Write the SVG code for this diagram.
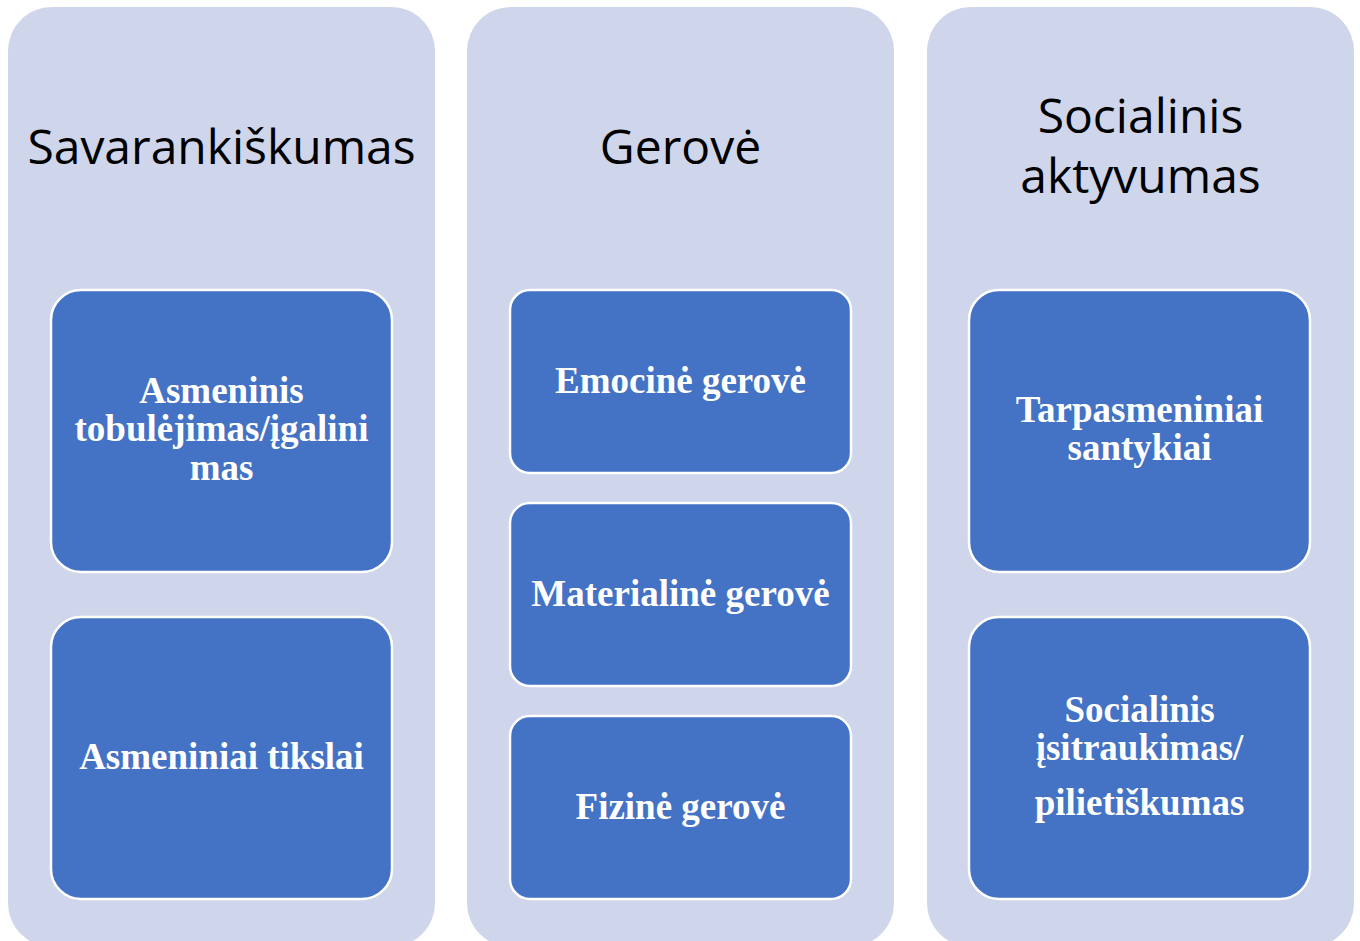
<svg xmlns="http://www.w3.org/2000/svg" width="1360" height="941" viewBox="0 0 1360 941">
<style>
.panel{fill:#cfd5ea;}
.box{fill:#4472c4;stroke:#ffffff;stroke-width:2.5;}
.title{font-family:"Open Sans","Liberation Sans",sans-serif;font-size:48px;fill:#000;text-anchor:middle;}
.label{font-family:"Liberation Serif","Times New Roman",serif;font-weight:bold;font-size:37px;fill:#fff;text-anchor:middle;}
</style>
<rect x="0" y="0" width="1360" height="941" fill="#ffffff"/>
<g id="col1">
<rect class="panel" x="8" y="7" width="427" height="940" rx="44"/>
<text class="title" x="221.5" y="164">Savarankiškumas</text>
</g>
<g id="col2">
<rect class="panel" x="467" y="7" width="427" height="940" rx="44"/>
<text class="title" x="680.5" y="164">Gerovė</text>
</g>
<g id="col3">
<rect class="panel" x="927" y="7" width="427" height="940" rx="44"/>
<text class="title" x="1140.5" y="133">Socialinis</text>
<text class="title" x="1140.5" y="193">aktyvumas</text>
</g>
<g id="n1">
<rect class="box" x="51" y="290" width="341" height="282" rx="30"/>
<text class="label" x="221.5" y="403">Asmeninis</text>
<text class="label" x="221.5" y="441">tobulėjimas/įgalini</text>
<text class="label" x="221.5" y="480">mas</text>
</g>
<g id="n2">
<rect class="box" x="51" y="617" width="341" height="282" rx="30"/>
<text class="label" x="221.5" y="769">Asmeniniai tikslai</text>
</g>
<g id="n3">
<rect class="box" x="510" y="290" width="341" height="183" rx="20"/>
<text class="label" x="680.5" y="393">Emocinė gerovė</text>
</g>
<g id="n4">
<rect class="box" x="510" y="503" width="341" height="183" rx="20"/>
<text class="label" x="680.5" y="606">Materialinė gerovė</text>
</g>
<g id="n5">
<rect class="box" x="510" y="716" width="341" height="183" rx="20"/>
<text class="label" x="680.5" y="819">Fizinė gerovė</text>
</g>
<g id="n6">
<rect class="box" x="969" y="290" width="341" height="282" rx="30"/>
<text class="label" x="1139.5" y="422">Tarpasmeniniai</text>
<text class="label" x="1139.5" y="460">santykiai</text>
</g>
<g id="n7">
<rect class="box" x="969" y="617" width="341" height="282" rx="30"/>
<text class="label" x="1139.5" y="722">Socialinis</text>
<text class="label" x="1139.5" y="760">įsitraukimas/</text>
<text class="label" x="1139.5" y="815">pilietiškumas</text>
</g>
<g id="connectors"></g>
</svg>
